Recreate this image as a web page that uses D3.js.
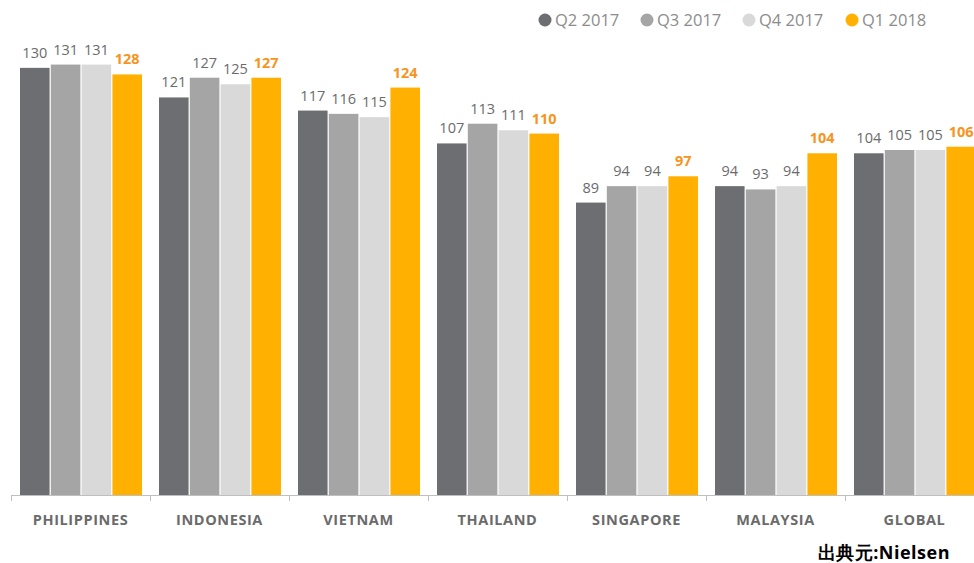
<!DOCTYPE html>
<html>
<head>
<meta charset="utf-8">
<script src="https://cdn.jsdelivr.net/npm/d3@7"></script>
<style>
  body { margin: 0; background: #fff; }
  svg text { font-family: "Open Sans", "Noto Sans", sans-serif; }
</style>
</head>
<body>
<svg id="chart"></svg>
<script>
// data
const countries = ['PHILIPPINES', 'INDONESIA', 'VIETNAM', 'THAILAND', 'SINGAPORE', 'MALAYSIA', 'GLOBAL'];
const quarters = ['Q2 2017', 'Q3 2017', 'Q4 2017', 'Q1 2018'];
const q2_2017 = [130, 121, 117, 107, 89, 94, 104];
const q3_2017 = [131, 127, 116, 113, 94, 93, 105];
const q4_2017 = [131, 125, 115, 111, 94, 94, 105];
const q1_2018 = [128, 127, 124, 110, 97, 104, 106];
const series = [q2_2017, q3_2017, q4_2017, q1_2018];

const barColors = ['#6d6e71', '#a5a5a5', '#d9d9d9', '#ffb000'];
const labelColors = ['#6b6b6b', '#6b6b6b', '#6b6b6b', '#f7941d'];

// constants
const width = 974;
const height = 563;
const margin = { left: 11, right: -10, top: 35, bottom: 68 };

const svg = d3.select('svg#chart').attr('width', width).attr('height', height);

const visWidth = width - margin.left - margin.right;
const visHeight = height - margin.top - margin.bottom;

const g = svg.append('g').attr('transform', 'translate(' + margin.left + ', ' + margin.top + ')');

const x0 = d3.scaleBand().domain(countries).range([0, visWidth]).paddingInner(0).paddingOuter(0);
const x1 = d3.scaleBand().domain(quarters).range([9, x0.bandwidth() - 8]).paddingInner(0.04);
const y = d3.scaleLinear().domain([0, 140]).range([visHeight, 0]);

// groups of bars
const groups = g.selectAll('g.country').data(countries).enter().append('g')
  .attr('class', 'country')
  .attr('transform', d => 'translate(' + x0(d) + ', 0)');

groups.each(function(country, ci) {
  const rows = quarters.map((q, qi) => ({ q: q, qi: qi, value: series[qi][ci] }));
  const grp = d3.select(this);
  grp.selectAll('rect').data(rows).enter().append('rect')
    .attr('x', d => x1(d.q))
    .attr('y', d => y(d.value))
    .attr('width', x1.bandwidth())
    .attr('height', d => visHeight - y(d.value))
    .attr('fill', d => barColors[d.qi]);
  grp.selectAll('text').data(rows).enter().append('text')
    .attr('x', d => x1(d.q) + x1.bandwidth() / 2)
    .attr('y', d => y(d.value) - 10)
    .attr('text-anchor', 'middle')
    .attr('font-size', 14.5)
    .attr('font-weight', d => d.qi === 3 ? 'bold' : 'normal')
    .attr('fill', d => labelColors[d.qi])
    .text(d => d.value);
});

// x axis
const xAxis = d3.axisBottom(x0).tickSize(0).tickPadding(19);
const axisG = g.append('g').attr('transform', 'translate(0, ' + (visHeight + 0.5) + ')').call(xAxis);
axisG.select('.domain').attr('stroke', '#bfbfbf').attr('d', 'M0,0H' + visWidth);
axisG.selectAll('.tick text')
  .attr('font-size', 14.5)
  .attr('font-weight', 'bold')
  .attr('letter-spacing', 0.6)
  .attr('fill', '#6b6b6b')
  .attr('font-family', '"Open Sans", sans-serif');
// category separators
g.selectAll('line.sep').data(countries).enter().append('line')
  .attr('class', 'sep')
  .attr('x1', d => x0(d) + 0.5).attr('x2', d => x0(d) + 0.5)
  .attr('y1', visHeight).attr('y2', visHeight + 6)
  .attr('stroke', '#bfbfbf');

// legend
const legendX = [545, 647, 749, 852];
const legend = svg.selectAll('g.legend').data(quarters).enter().append('g')
  .attr('class', 'legend')
  .attr('transform', (d, i) => 'translate(' + legendX[i] + ', 20)');
legend.append('circle').attr('r', 6.5).attr('fill', (d, i) => barColors[i]);
legend.append('text')
  .attr('x', 10)
  .attr('y', 6)
  .attr('font-size', 16.5)
  .attr('fill', '#8c8c8c')
  .text(d => d);

// source
svg.append('text')
  .attr('x', 950)
  .attr('y', 559)
  .attr('text-anchor', 'end')
  .attr('font-size', 18)
  .attr('font-weight', 'bold')
  .attr('letter-spacing', 0.5)
  .attr('fill', '#000')
  .attr('font-family', '"Noto Sans CJK JP", sans-serif')
  .text('出典元:Nielsen');
</script>
</body>
</html>
